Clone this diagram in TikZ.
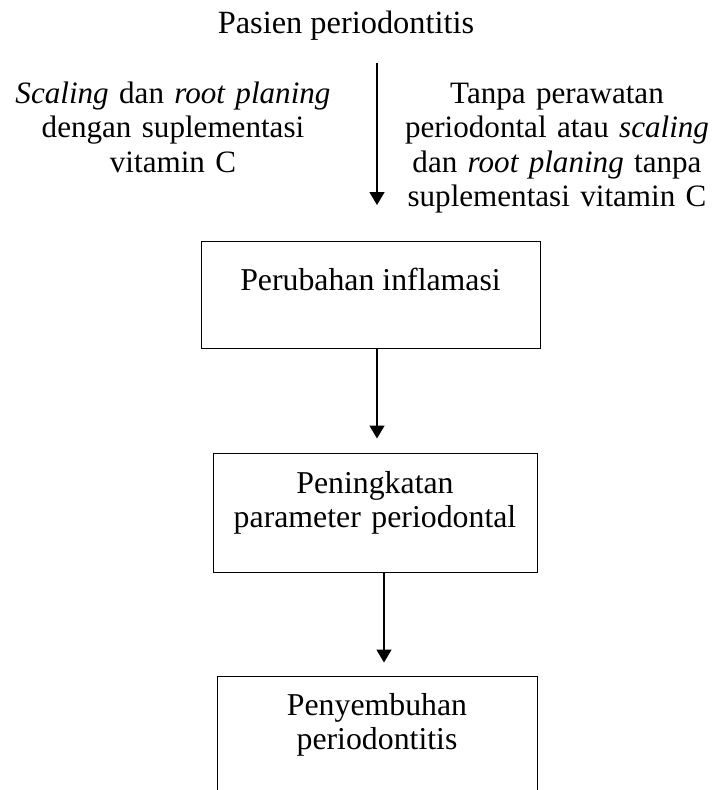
\documentclass[tikz,border=0pt]{standalone}
\usepackage{fontspec}
\setmainfont{Liberation Serif}
\usepackage{tikz}
\usetikzlibrary{arrows.meta,positioning}

\begin{document}
\begin{tikzpicture}[
  x=1pt, y=-1pt,
  every node/.style={font=\fontsize{31.8}{34.6}\selectfont, inner sep=0pt},
  sidetext/.style={text width=#1, align=center, anchor=base, font=\fontsize{31.1}{34.6}\selectfont},
  stage/.style={draw, line width=1pt, align=center, anchor=base},
  flow/.style={-{Triangle[width=15pt,length=13pt]}, line width=1.5pt}
]
  \useasboundingbox (0,0) rectangle (718,790);

  % Patient and the two treatment groups
  \node[anchor=base, font=\fontsize{32.4}{34.6}\selectfont] (patient) at (346,33) {Pasien periodontitis};
  \node[sidetext=335pt] (withvitc) at (173,103) {\textit{Scaling} dan \textit{root planing}\\ dengan suplementasi\\ vitamin C};
  \node[sidetext=325pt] (novitc) at (557,103) {Tanpa perawatan\\ periodontal atau \textit{scaling}\\ dan \textit{root planing} tanpa\\ suplementasi vitamin C};

  % Outcome boxes
  \node[stage, minimum width=339pt, text height=49pt, text depth=58pt] (inflam) at (370.5,290) {Perubahan inflamasi};
  \node[stage, text width=324pt, text height=40pt, text depth=79pt] (param) at (375,493) {Peningkatan\\ parameter periodontal};
  \node[stage, text width=320pt, text height=39pt, text depth=150pt] (heal) at (377,715) {Penyembuhan\\ periodontitis};

  % Arrows
  \coordinate (start) at (377,63);
  \coordinate (end) at (377,205);
  \draw[flow] (start) -- (end);
  \draw[flow, shorten >=14pt] (start |- inflam.south) -- (start |- param.north);
  \draw[flow, shorten >=13pt] ([xshift=9pt]param.south) -- ([xshift=9pt]param.south |- heal.north);
\end{tikzpicture}
\end{document}
